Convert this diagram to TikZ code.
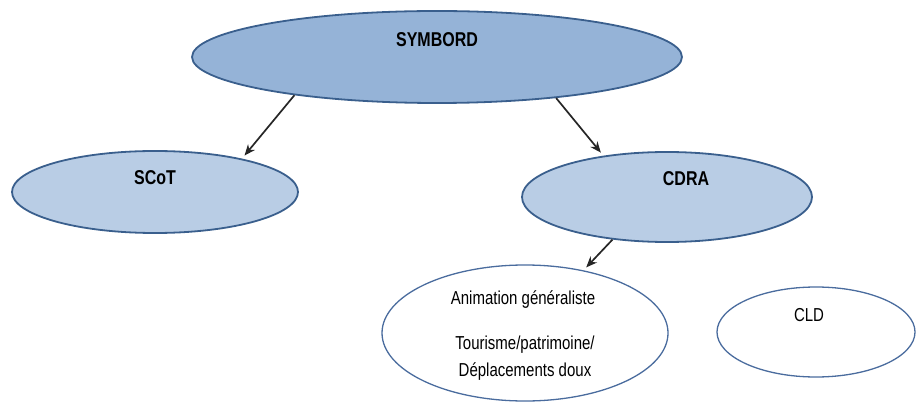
\documentclass[tikz,border=0pt]{standalone}
\usepackage{fontspec}
\setmainfont{Liberation Sans}
\usetikzlibrary{shapes.geometric,arrows.meta}
\definecolor{topfill}{HTML}{95B3D7}
\definecolor{midfill}{HTML}{B9CDE5}
\definecolor{rim}{HTML}{3A5F8D}
\definecolor{lowrim}{HTML}{4A6C9E}
\newcommand{\tall}[1]{\scalebox{1}[1.25]{#1}}

\begin{document}
\begin{tikzpicture}[x=1pt,y=-1pt,
  blob/.style={ellipse,draw=rim,line width=1.8pt,inner sep=0pt},
  lowblob/.style={ellipse,draw=lowrim,line width=1.3pt,fill=white,inner sep=0pt},
  boldlbl/.style={font=\fontsize{16}{19}\selectfont\bfseries},
  lbl/.style={font=\fontsize{15}{18}\selectfont},
  >={Stealth[length=11pt,width=9pt]}]
\useasboundingbox (0,0) rectangle (917,403);

% ellipses
\node[blob,fill=topfill,minimum width=490pt,minimum height=92pt] (sym) at (437,57) {};
\node[blob,fill=midfill,minimum width=286pt,minimum height=82pt] (scot) at (155,192) {};
\node[blob,fill=midfill,minimum width=290pt,minimum height=90pt] (cdra) at (667,197) {};
\node[lowblob,minimum width=286pt,minimum height=136pt] (anim) at (525,333) {};
\node[lowblob,minimum width=198pt,minimum height=90pt] (cld) at (816,332) {};

% texts
\node[boldlbl] (symt) at (437,40) {\tall{SYMBORD}};
\node[boldlbl] (scott) at (155,178) {\tall{SCoT}};
\node[boldlbl] (cdrat) at (686,179) {\tall{CDRA}};
\node[lbl] (animt) at (523,300) {\tall{Animation généraliste}};
\node[lbl] (tourt) at (525,345) {\tall{Tourisme/patrimoine/}};
\node[lbl] (dept) at (525,372) {\tall{Déplacements doux}};
\node[lbl] (cldt) at (809,315) {\tall{CLD}};

% arrows
\foreach \a/\b in {sym.195/scot.21, sym.341/cdra.147, cdra.218/anim.47}
  \draw[->,black!85,line width=1.7pt,shorten >=4pt] (\a) -- (\b);
\end{tikzpicture}
\end{document}
